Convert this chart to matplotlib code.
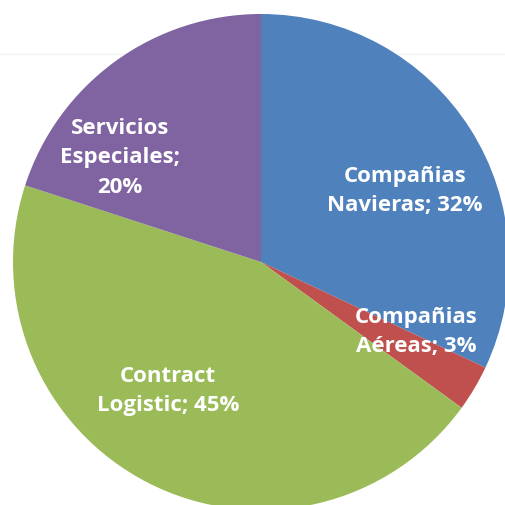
import numpy as np
from matplotlib import pyplot as plt

labels = ["Compañias\nNavieras", "Compañias\nAéreas", "Contract\nLogistic", "Servicios\nEspeciales"]
shares = [32, 3, 45, 20]
colors = ["#4F81BD", "#C0504D", "#9BBB59", "#8064A2"]

# label anchors (pixel offsets from the pie centre, y up)
label_xy = [(144, 71), (155, -70), (-93, -129), (-141, 104)]

W, H = 506, 505
cx, cy, r = 261, 262, 248

fig = plt.figure(figsize=(W / 100, H / 100), dpi=100)
ax = fig.add_axes([0, 0, 1, 1])
ax.set_aspect("equal")
ax.axis("off")

# faint frame line behind the pie
ax.plot([-cx, W - cx], [cy - 54, cy - 54], color="#f3f3f3", lw=1, zorder=0)

wedges, _ = ax.pie(shares, colors=colors, startangle=90, counterclock=False,
                   radius=r, wedgeprops=dict(linewidth=0))
ax.set_xlim(-cx, W - cx)
ax.set_ylim(-(H - cy), cy)

for lab, val, (x, y) in zip(labels, shares, label_xy):
    if lab.startswith("Servicios"):
        txt = "Servicios\nEspeciales;\n%d%%" % val
    else:
        txt = "%s; %d%%" % (lab, val)
    ax.text(x, y, txt, ha="center", va="center", color="white",
            fontsize=16, fontweight="bold", family="Open Sans", linespacing=1.52)

fig.savefig("out.png", dpi=100)
